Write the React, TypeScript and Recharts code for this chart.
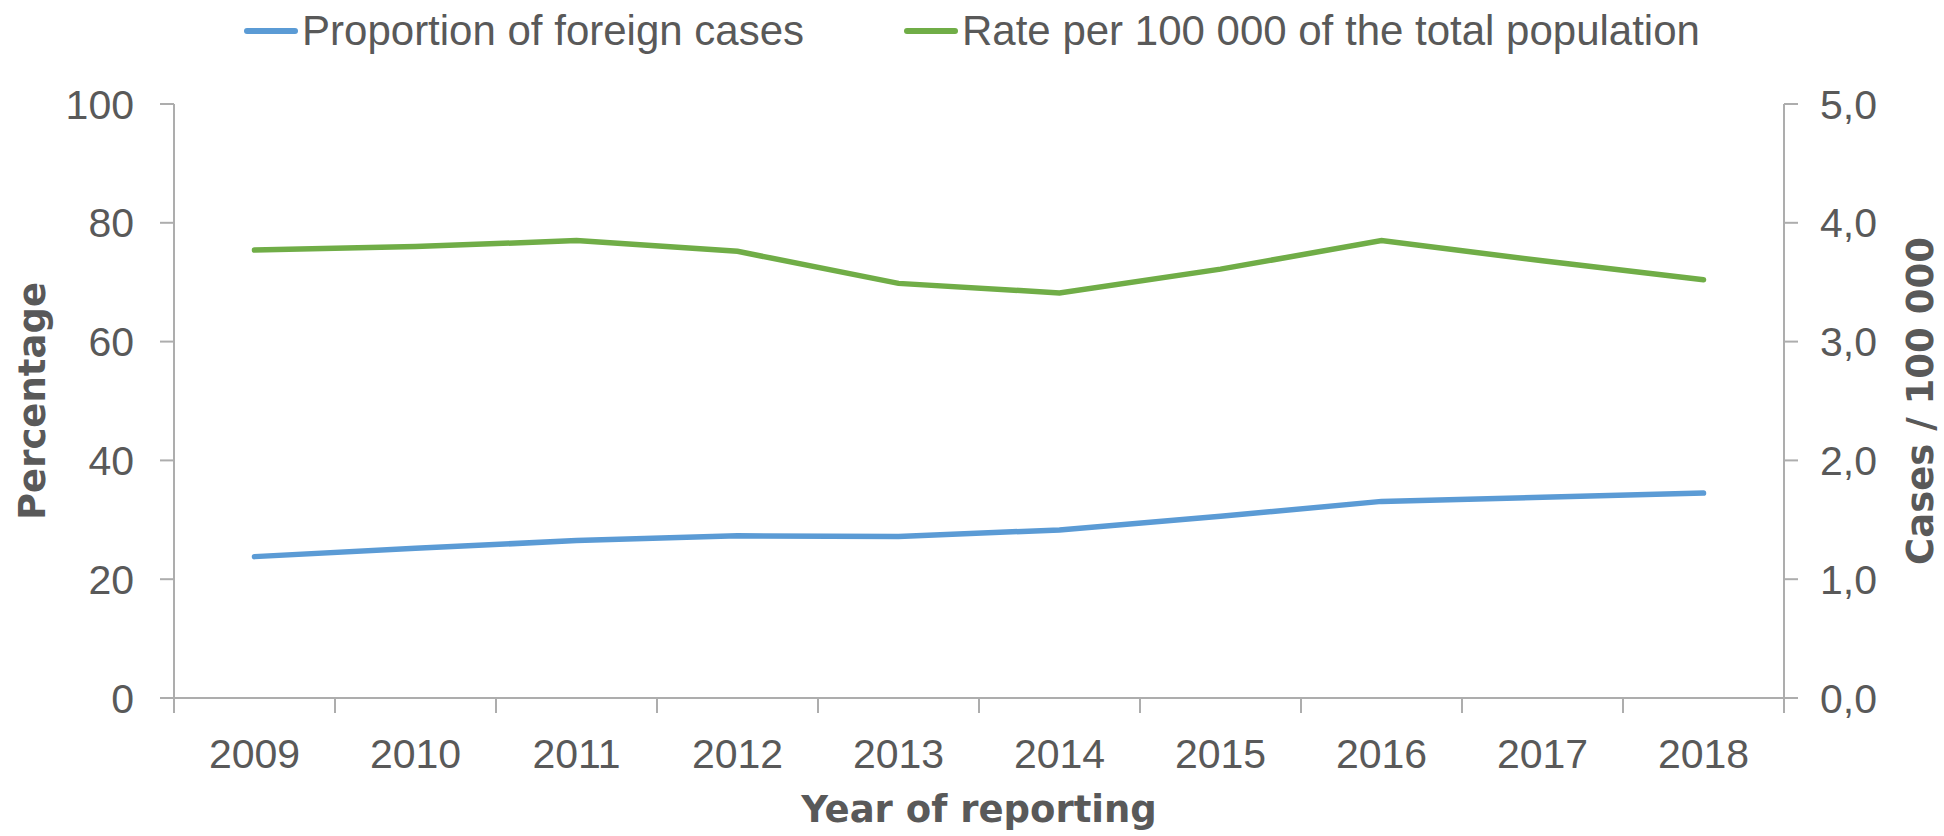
import React from "react";
import {
  LineChart,
  Line,
  XAxis,
  YAxis,
  Legend,
} from "recharts";

const years: string[] = ["2009", "2010", "2011", "2012", "2013", "2014", "2015", "2016", "2017", "2018"];
const foreignPct: number[] = [23.8, 25.2, 26.5, 27.3, 27.2, 28.3, 30.6, 33.1, 33.8, 34.5];
const ratePer100k: number[] = [3.77, 3.8, 3.85, 3.76, 3.49, 3.41, 3.61, 3.85, 3.68, 3.52];
const pctTicks: number[] = [0, 20, 40, 60, 80, 100];
const rateTicks: number[] = [0, 1, 2, 3, 4, 5];
const boundaryTicks: number[] = [0, 1, 2, 3, 4, 5, 6, 7, 8, 9, 10];

const BLUE = "#5B9BD5";
const GREEN = "#70AD47";
const TEXT = "#595959";
const AXIS = "#ADADAD";
const tickFont = { fill: TEXT, fontSize: 41, fontFamily: "Liberation Sans, Arial, sans-serif" };
const titleFont = { fill: TEXT, fontSize: 37, fontWeight: 700, fontFamily: "DejaVu Sans, Verdana, sans-serif" };

const data = years.map((y, i) => ({
  year: y,
  idx: i,
  pct: foreignPct[i],
  rate: ratePer100k[i],
}));

function ChartLegend() {
  const items = [
    { name: "Proportion of foreign cases", color: BLUE },
    { name: "Rate per 100 000 of the total population", color: GREEN },
  ];
  return (
    <div
      style={{
        display: "flex",
        justifyContent: "center",
        gap: 100,
        paddingTop: 10,
        fontFamily: "Liberation Sans, Arial, sans-serif",
        fontSize: 42,
        lineHeight: "42px",
        color: TEXT,
      }}
    >
      {items.map((it) => (
        <div key={it.name} style={{ display: "flex", alignItems: "center" }}>
          <span
            style={{
              display: "inline-block",
              width: 54,
              height: 6,
              borderRadius: 3,
              background: it.color,
              marginRight: 4,
            }}
          />
          <span>{it.name}</span>
        </div>
      ))}
    </div>
  );
}

export default function App() {
  return (
    <div style={{ width: 1944, height: 836, background: "#fff" }}>
      <style>{`body{margin:0}`}</style>
      <LineChart
        width={1944}
        height={836}
        data={data}
        margin={{ top: 104, right: 0, bottom: 0, left: 0 }}
      >
        {/* axis line with tick marks between categories */}
        <XAxis
          xAxisId="a"
          dataKey="idx"
          type="number"
          domain={[0, 10]}
          ticks={boundaryTicks}
          allowDataOverflow
          tickFormatter={() => ""}
          tickSize={15}
          height={1}
          axisLine={{ stroke: AXIS, strokeWidth: 2 }}
          tickLine={{ stroke: AXIS, strokeWidth: 2 }}
        />
        {/* year labels */}
        <XAxis
          xAxisId="b"
          dataKey="year"
          padding={{ left: 80.5, right: 80.5 }}
          height={137}
          axisLine={false}
          tickLine={false}
          tickSize={0}
          tickMargin={40}
          tick={tickFont}
          interval={0}
          label={{ value: "Year of reporting", position: "insideBottom", offset: 14, style: titleFont }}
        />
        <YAxis
          yAxisId="left"
          orientation="left"
          width={174}
          domain={[0, 100]}
          ticks={pctTicks}
          tickSize={14}
          tickMargin={26}
          tick={tickFont}
          axisLine={{ stroke: AXIS, strokeWidth: 2 }}
          tickLine={{ stroke: AXIS, strokeWidth: 2 }}
          label={{ value: "Percentage", angle: -90, position: "center", dx: -55, style: titleFont }}
        />
        <YAxis
          yAxisId="right"
          orientation="right"
          width={160}
          domain={[0, 5]}
          ticks={rateTicks}
          tickSize={14}
          tickMargin={22}
          tick={tickFont}
          tickFormatter={(v: number) => v.toFixed(1).replace(".", ",")}
          axisLine={{ stroke: AXIS, strokeWidth: 2 }}
          tickLine={{ stroke: AXIS, strokeWidth: 2 }}
          label={{ value: "Cases / 100 000", angle: -90, position: "center", dx: 56, style: titleFont }}
        />
        <Legend
          verticalAlign="middle"
          align="center"
          wrapperStyle={{ top: 0, left: 0, width: 1944 }}
          content={() => <ChartLegend />}
        />
        <Line
          xAxisId="b"
          yAxisId="left"
          type="linear"
          dataKey="pct"
          name="Proportion of foreign cases"
          stroke={BLUE}
          strokeWidth={5.5}
          strokeLinecap="round"
          dot={false}
          isAnimationActive={false}
        />
        <Line
          xAxisId="b"
          yAxisId="right"
          type="linear"
          dataKey="rate"
          name="Rate per 100 000 of the total population"
          stroke={GREEN}
          strokeWidth={5.5}
          strokeLinecap="round"
          dot={false}
          isAnimationActive={false}
        />
      </LineChart>
    </div>
  );
}
